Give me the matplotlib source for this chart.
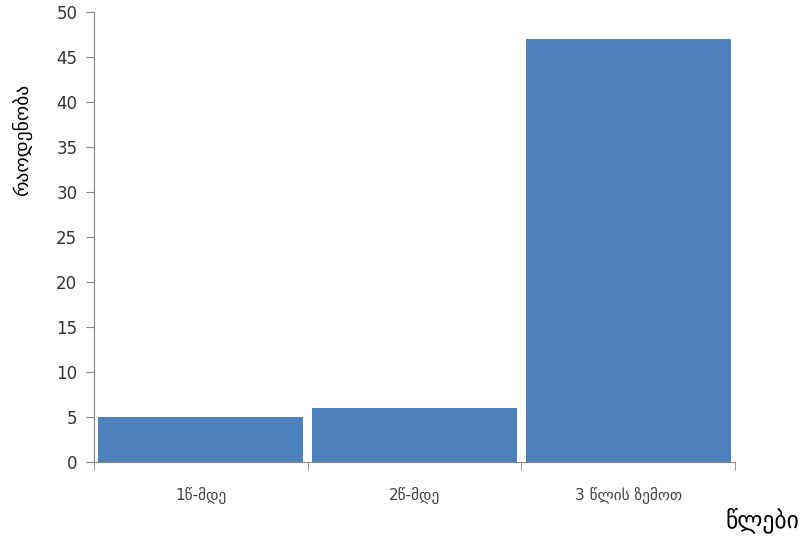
import matplotlib.pyplot as plt

# სტაჟის ჯგუფები და რაოდენობა
categories = ['1წ-მდე', '2წ-მდე', '3 წლის ზემოთ']
counts = [5, 6, 47]
y_ticks = [0, 5, 10, 15, 20, 25, 30, 35, 40, 45, 50]

plt.rcParams['font.family'] = ['DejaVu Sans']

fig = plt.figure(figsize=(8.09, 5.44), dpi=100)
ax = fig.add_axes([94 / 809, 1 - 462 / 544, (735 - 94) / 809, (462 - 12) / 544])

x = range(len(categories))
ax.bar(x, counts, width=0.96, color='#4f81bd')

ax.set_xlim(-0.5, len(categories) - 0.5)
ax.set_ylim(0, 50)
ax.set_yticks(y_ticks)
ax.set_xticks(list(x))
ax.set_xticklabels(categories, fontsize=11, color='#404040')
ax.set_xticks([i - 0.5 for i in range(len(categories) + 1)], minor=True)

grey = '#868686'
for side in ['top', 'right']:
    ax.spines[side].set_visible(False)
for side in ['left', 'bottom']:
    ax.spines[side].set_color(grey)
ax.tick_params(axis='y', length=6, color=grey, labelsize=12, labelcolor='#333333', pad=6)
ax.tick_params(axis='x', which='major', length=0, pad=18)
ax.tick_params(axis='x', which='minor', length=6, color=grey)

fig.text(22 / 809, 1 - 140 / 544, 'რაოდენობა', fontsize=14, rotation=90,
         ha='center', va='center')
fig.text(762 / 809, 1 - 520 / 544, 'წლები', fontsize=17, ha='center', va='center')

fig.savefig('out.png', dpi=100)
